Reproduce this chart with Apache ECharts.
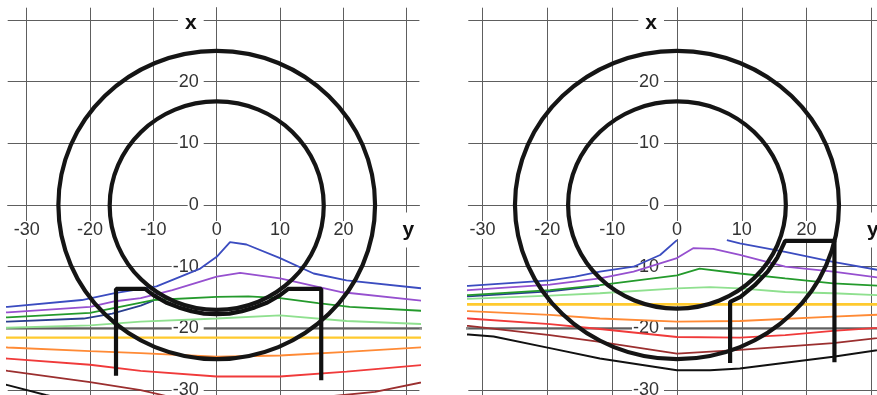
<!DOCTYPE html>
<html><head><meta charset="utf-8">
<script src="https://cdn.jsdelivr.net/npm/echarts@6/dist/echarts.min.js"></script>
<style>html,body{margin:0;padding:0;background:#fff}#c{width:877px;height:395px}</style>
</head><body><div id="c"></div><script>
// ---- ticks ----
const gridValues = [-30, -20, -10, 0, 10, 20, 30];
const yTitle = 'y';
const xTitle = 'x';

// ---- circles: [centre y, centre x, radius] ----
const leftCircles = [[0, 0, 25], [0, -0.1, 16.9]];
const rightCircles = [[0, 0, 25], [0, 0, 16.8]];

// ---- reference level ----
const levelLine = [[-40, -20], [40, -20]];

// ---- left panel lines, points are [y, x] ----
const L_blue = [[-35,-16.7],[-33,-16.5],[-21.3,-15.4],[-16.1,-14.3],[-9.5,-13.2],[-2.6,-10.3],[0,-8.4],[2.1,-6.0],[4.7,-6.4],[10,-8.6],[15.3,-11.1],[20.5,-12.2],[35,-13.8]];
const L_purple = [[-35,-17.5],[-33,-17.4],[-20,-16.5],[-16,-15.6],[-12,-15.1],[-7,-13.8],[0,-11.6],[3.7,-11.0],[10,-11.9],[19.5,-14.1],[35,-15.8]];
const L_navy = [[-35,-19.0],[-33,-18.9],[-21,-18.4],[-16.5,-17.6],[-12,-16.3],[-10,-15.5]];
const L_green = [[-35,-18.3],[-33,-18.2],[-20,-17.5],[-10,-15.4],[0,-14.9],[5,-14.8],[10,-15.1],[16,-15.9],[21,-16.5],[35,-17.3]];
const L_lgreen = [[-35,-19.9],[-33,-19.9],[-20,-19.5],[-12,-18.9],[0,-18.4],[10,-17.9],[20.5,-18.8],[35,-19.4]];
const L_yellow = [[-35,-21.5],[35,-21.5]];
const L_orange = [[-35,-23.0],[-33,-23.1],[-20,-23.7],[-12,-24.0],[0,-24.6],[10,-24.4],[20.5,-23.8],[35,-22.9]];
const L_red = [[-35,-24.8],[-33,-24.9],[-20,-25.9],[-12,-26.9],[0,-27.8],[10,-27.8],[20.5,-27.0],[35,-25.7]];
const L_dred = [[-35,-26.6],[-33,-26.9],[-20,-28.7],[-12,-30.0],[-7,-31.2],[0,-32.5],[10,-32.3],[18,-31.0],[25,-30.3],[35,-28.2]];
const L_black = [[-35,-28.8],[-33,-29.2],[-27,-30.8],[-20,-32.5],[-10,-34]];
const L_shape = [[-15.9,-27.7],[-15.9,-13.6],[-11.3,-13.6],[-10,-14.6],[-8,-15.8],[-6,-16.6],[-4,-17.2],[-2,-17.6],[0,-17.7],[2,-17.6],[4,-17.2],[6,-16.6],[8,-15.8],[10,-14.6],[11.3,-13.6],[16.5,-13.6],[16.5,-28.4]];

// ---- right panel lines, points are [y, x] ----
const R_blue1 = [[-35,-13.3],[-32.2,-13.1],[-19.6,-12.2],[-15.7,-11.6],[-11.9,-10.8],[-6.7,-10.0],[-2.6,-8.1],[0,-5.7]];
const R_blue2 = [[7.7,-5.7],[9.7,-6.2],[16.7,-7.6],[24.1,-9.2],[30.9,-10.5],[35,-11.1]];
const R_purple = [[-35,-14.0],[-32.2,-13.8],[-19.6,-12.9],[-11.9,-11.9],[-6.7,-10.8],[0,-8.6],[2.5,-7.0],[5.6,-7.1],[9.7,-8.1],[16.7,-10.0],[24.1,-10.8],[35,-12.3]];
const R_navy = [[-35,-15.0],[-32.2,-14.8],[-19.6,-14.0],[-12,-13.1]];
const R_green = [[-35,-14.7],[-32.2,-14.6],[-19.6,-13.8],[-11.9,-13.0],[0,-11.4],[3.5,-10.3],[9.7,-11.1],[16.7,-11.9],[24.1,-12.7],[35,-13.3]];
const R_lgreen = [[-35,-15.3],[-32.2,-15.2],[-19.6,-14.7],[-11.9,-14.3],[0,-13.5],[5.1,-13.3],[9.7,-13.5],[16.7,-14.1],[24.1,-14.3],[35,-14.8]];
const R_yellow = [[-35,-16.1],[35,-16.1]];
const R_orange = [[-35,-17.1],[-32.2,-17.2],[-19.6,-17.8],[-11.9,-18.4],[0,-18.9],[9.7,-18.8],[24.1,-18.1],[35,-17.6]];
const R_red = [[-35,-18.2],[-32.2,-18.4],[-19.6,-19.3],[-11.9,-20.1],[0,-21.4],[9.7,-21.5],[16.7,-21.1],[24.1,-20.4],[35,-19.6]];
const R_dred = [[-35,-19.3],[-32.2,-19.6],[-19.6,-21.1],[-11.9,-22.2],[0,-24.1],[9.7,-23.5],[24.1,-22.4],[35,-21.1]];
const R_black = [[-35,-20.8],[-32.2,-21.0],[-28.3,-21.3],[-19.6,-23.2],[-11.9,-24.9],[0,-26.8],[5.1,-26.8],[9.7,-26.5],[24.1,-24.6],[35,-22.9]];
const R_shape = [[8.2,-25.6],[8.2,-15.7],[9.8,-14.9],[12,-13.0],[14,-10.8],[15.5,-8.5],[16.7,-5.8],[24.3,-5.8],[24.3,-25.5]];

const colors = {blue:'#3b4cc0', purple:'#9650cf', navy:'#2a3f8f', green:'#249a2c', lgreen:'#8fe08f', yellow:'#ffca2e', orange:'#ff8a35', red:'#f03a3a', dred:'#9b2f2f', black:'#111111'};

const chart = echarts.init(document.getElementById('c'), null, {renderer:'canvas'});

const gridColor = '#5e5e5e';
const font = 'Liberation Sans, Arial, sans-serif';
function xAxisDef(gi, min, max, off) {
  return {
    type:'value', gridIndex:gi, min:min, max:max, z:1, position:'bottom', offset:off,
    axisLine:{show:true, onZero:false, lineStyle:{color:gridColor, width:1}},
    axisTick:{show:false, customValues:gridValues},
    splitLine:{show:true, lineStyle:{color:gridColor, width:1}},
    axisLabel:{
      show:true, customValues:gridValues, margin:25, verticalAlign:'middle', hideOverlap:false,
      formatter: v => v === 30 ? '{t|' + yTitle + '}' : '{n|' + v + '}',
      rich:{
        n:{fontFamily:font, fontSize:18, color:'#333', backgroundColor:'#fff', padding:[0,1]},
        t:{fontFamily:font, fontSize:21, fontWeight:'bold', color:'#111', backgroundColor:'#fff', padding:[7,5,7,8]}
      }
    }
  };
}
function yAxisDef(gi, min, max, off) {
  return {
    type:'value', gridIndex:gi, min:min, max:max, z:1, position:'left', offset:off,
    axisLine:{show:true, onZero:false, lineStyle:{color:gridColor, width:1}},
    axisTick:{show:false, customValues:gridValues},
    splitLine:{show:true, lineStyle:{color:gridColor, width:1}},
    axisLabel:{
      show:true, customValues:gridValues, margin:13, align:'right', hideOverlap:false,
      formatter: v => v === 30 ? '{t|' + xTitle + '}' : '{n|' + v + '}',
      rich:{
        n:{fontFamily:font, fontSize:18, color:'#333', backgroundColor:'#fff', padding:[0,5,0,1]},
        t:{fontFamily:font, fontSize:21, fontWeight:'bold', color:'#111', backgroundColor:'#fff', padding:[6,7,0,7]}
      }
    }
  };
}

function lineSeries(data, color, gi, width) {
  return {type:'line', xAxisIndex:gi, yAxisIndex:gi, data:data, showSymbol:false, symbol:'none', silent:true,
    z:2, clip:true, lineStyle:{color:color, width:width || 1.8}, animation:false};
}
function circleSeries(data, gi) {
  return {type:'custom', xAxisIndex:gi, yAxisIndex:gi, data:data, z:3, silent:true, animation:false,
    encode:{x:0, y:1},
    renderItem:(params, api) => {
      const c = api.coord([api.value(0), api.value(1)]);
      const s = api.size([api.value(2), api.value(2)]);
      return {type:'ellipse', shape:{cx:c[0], cy:c[1], rx:s[0], ry:s[1]},
        style:{fill:null, stroke:'#151515', lineWidth:4.2}};
    }};
}
function levelSeries(gi) {
  return {type:'line', xAxisIndex:gi, yAxisIndex:gi, data:levelLine, symbol:'none', silent:true, z:0,
    lineStyle:{color:'#8c8c8c', width:2.8}, animation:false};
}

const series = [
  levelSeries(0), levelSeries(1),
  lineSeries(L_black, colors.black, 0, 2), lineSeries(L_dred, colors.dred, 0), lineSeries(L_red, colors.red, 0),
  lineSeries(L_orange, colors.orange, 0), lineSeries(L_yellow, colors.yellow, 0, 2.2), lineSeries(L_lgreen, colors.lgreen, 0),
  lineSeries(L_navy, colors.navy, 0), lineSeries(L_green, colors.green, 0), lineSeries(L_purple, colors.purple, 0),
  lineSeries(L_blue, colors.blue, 0),
  circleSeries(leftCircles, 0),
  Object.assign(lineSeries(L_shape, '#111', 0, 4.2), {z:4}),
  lineSeries(R_black, colors.black, 1, 2), lineSeries(R_dred, colors.dred, 1), lineSeries(R_red, colors.red, 1),
  lineSeries(R_orange, colors.orange, 1), lineSeries(R_yellow, colors.yellow, 1, 2.6), lineSeries(R_lgreen, colors.lgreen, 1),
  lineSeries(R_navy, colors.navy, 1), lineSeries(R_green, colors.green, 1), lineSeries(R_purple, colors.purple, 1),
  lineSeries(R_blue1, colors.blue, 1), lineSeries(R_blue2, colors.blue, 1),
  circleSeries(rightCircles, 1),
  Object.assign(lineSeries(R_shape, '#111', 1, 4.2), {z:4})
];

chart.setOption({
  animation:false,
  backgroundColor:'#fff',
  grid:[
    {left:7.7, top:7.7, width:411.7, height:391.6, containLabel:false, outerBoundsMode:'none'},
    {left:468.3, top:7.7, width:412.8, height:391.6, containLabel:false, outerBoundsMode:'none'}
  ],
  xAxis:[xAxisDef(0, -33, 32, -194.3), xAxisDef(1, -32.2, 31.5, -194.3)],
  yAxis:[yAxisDef(0, -31.5, 32, -209), yAxisDef(1, -31.5, 32, -208.7)],
  series:series
});
</script></body></html>
